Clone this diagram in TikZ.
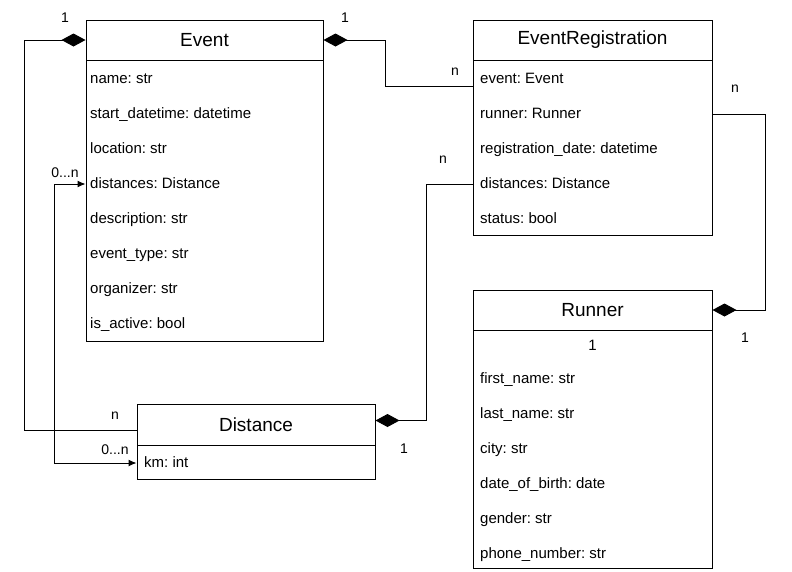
\documentclass[tikz,border=0pt]{standalone}
\usepackage{fontspec}
\setmainfont{Liberation Sans}
\frenchspacing
\usetikzlibrary{calc,positioning,arrows.meta}
\definecolor{ink}{HTML}{000000}
\tikzset{
  cls/.style={draw=ink,line width=1pt,minimum width=#1,inner sep=0pt},
  head/.style={font=\fontsize{19}{22}\selectfont,minimum height=40pt},
  attr/.style={anchor=west,inner sep=0pt,text height=11pt,text depth=3pt,font=\fontsize{15}{18}\selectfont},
  mult/.style={inner sep=0pt,text height=10pt,text depth=0pt,font=\fontsize{14}{17}\selectfont},
  link/.style={ink,line width=1pt},
  comp/.style={link,{Diamond[length=24pt,width=13pt]}-},
}

\begin{document}
\begin{tikzpicture}[x=1pt,y=-1pt]
\fill[white] (0,0) rectangle (792,571);
% class boxes
\node[cls=237pt,head] (event) at (204.5,40) {Event};
\node[cls=237pt,minimum height=281pt] (evbody) at (204.5,200.5) {};
\node[cls=239pt,head] (reg) at (592.5,40) {EventRegistration};
\node[cls=239pt,minimum height=175pt] (regbody) at (592.5,147.5) {};
\node[cls=239pt,head] (runner) at (592.5,310) {Runner};
\node[cls=239pt,minimum height=238pt] (runbody) at (592.5,449) {};
\node[cls=238pt,head,minimum height=41pt] (dist) at (256,424.5) {Distance};
\node[cls=238pt,minimum height=34pt] (distbody) at (256,462) {};
% Event attributes
\node[attr] (evname)  at (90,79)  {name: str};
\node[attr] (evstart) at (90,114) {start\_datetime: datetime};
\node[attr] (evloc)   at (90,149) {location: str};
\node[attr] (evdist)  at (90,184) {distances: Distance};
\node[attr] (evdesc)  at (90,219) {description: str};
\node[attr] (evtype)  at (90,254) {event\_type: str};
\node[attr] (evorg)   at (90,289) {organizer: str};
\node[attr] (evact)   at (90,324) {is\_active: bool};
% EventRegistration attributes
\node[attr] (regevent)  at (480,79)  {event: Event};
\node[attr] (regrunner) at (480,114) {runner: Runner};
\node[attr] (regdate)   at (480,149) {registration\_date: datetime};
\node[attr] (regdist)   at (480,184) {distances: Distance};
\node[attr] (regstat)   at (480,219) {status: bool};
% Runner attributes
\node[attr,anchor=center] (runone) at (592.5,346) {1};
\node[attr] (runfirst) at (480,379) {first\_name: str};
\node[attr] (runlast)  at (480,414) {last\_name: str};
\node[attr] (runcity)  at (480,449) {city: str};
\node[attr] (runbirth) at (480,484) {date\_of\_birth: date};
\node[attr] (rungend)  at (480,519) {gender: str};
\node[attr] (runphone) at (480,554) {phone\_number: str};
% Distance attributes
\node[attr] (distkm) at (144,463) {km: int};
% connectors
\draw[comp] (event.west) -- ++(-61,0) |- ([yshift=-6pt]dist.west);
\draw[link,{Latex[length=8pt,width=7pt]}-{Latex[length=8pt,width=7pt]}]
  (evbody.west |- evdist) -- ++(-31,0) |- (distbody.west |- distkm);
\draw[comp] (event.east) -- ++(62,0) |- ([yshift=-7pt]regbody.west |- regevent);
\draw[link,-{Diamond[length=24pt,width=13pt]}] (regbody.west |- regdist) -- ++(-46,0) |- ([yshift=4pt]dist.east);
\draw[link,-{Diamond[length=24pt,width=13pt]}] (regbody.east |- regrunner) -- ++(53,0) |- (runner.east);
% multiplicities
\node[mult] (m1) at (65,17)   {1};
\node[mult] (m2) at (115,414) {n};
\node[mult] (m3) at (65,172)  {0...n};
\node[mult] (m4) at (115,449) {0...n};
\node[mult] (m5) at (345,17)  {1};
\node[mult] (m6) at (455,70)  {n};
\node[mult] (m7) at (443,158) {n};
\node[mult] (m8) at (404,448) {1};
\node[mult] (m9) at (735,87)  {n};
\node[mult] (m10) at (745,337) {1};
\end{tikzpicture}
\end{document}
